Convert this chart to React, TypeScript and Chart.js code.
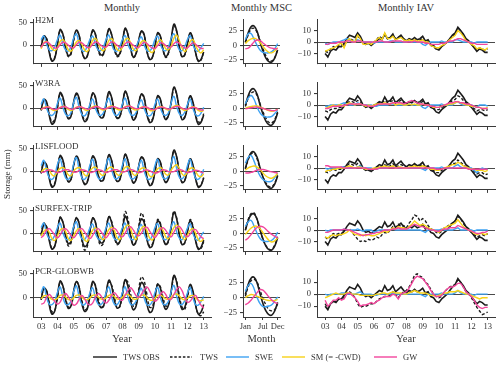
import React, { useEffect, useRef } from 'react';
import { Chart, registerables } from 'chart.js';

Chart.register(...registerables);

// ------------------------------------------------------------------ data
const START_YEAR = 2003;
const STEP_MONTHS = 2; // one value every two months, Jan 2003 .. Jan 2013
const YEAR_TICKS = [2003, 2004, 2005, 2006, 2007, 2008, 2009, 2010, 2011, 2012, 2013];
const MONTHS = [1, 2, 3, 4, 5, 6, 7, 8, 9, 10, 11, 12];
const MONTH_TICKS = [1, 7, 12];
const MONTH_TICK_LABELS = ['Jan', 'Jul', 'Dec'];
const MODELS = ['H2M', 'W3RA', 'LISFLOOD', 'SURFEX-TRIP', 'PCR-GLOBWB'];
const SERIES = ['TWS OBS', 'TWS', 'SWE', 'SM (= -CWD)', 'GW'];
const MON_Y_TICKS = [0, 50];
const MSC_Y_TICKS = [-25, 0, 25];
const IAV_Y_TICKS = [-10, 0, 10];

// observations (same in every row)
const OBS_MON = [
  -5, 19, 14, -16, -35, -29,
  1, 34, 25, -4, -23, -18,
  13, 33, 22, -12, -29, -25,
  4, 33, 25, -8, -21, -19,
  9, 36, 24, -6, -22, -19,
  6, 37, 24, -6, -26, -19,
  10, 31, 24, -12, -31, -28,
  -2, 27, 20, -10, -25, -16,
  13, 46, 32, -3, -25, -21,
  3, 27, 14, -16, -35, -31,
  -15];
const OBS_MSC = [5, 22, 32, 33, 24, 6, -10, -22, -28, -29, -22, -8];
const OBS_IAV = [
  -10, -13, -8, -6, -7, -4,
  -4, -1, 3, 6, 5, 4,
  8, 5, 0, -2, -1, -3,
  -1, 1, 3, 2, 7, 3,
  4, 7, 2, 4, 6, 3,
  1, 3, 2, 4, 2, 3,
  5, 1, 2, -2, -3, -6,
  -7, -4, -2, 0, 3, 6,
  8, 13, 10, 7, 3, 1,
  -2, -5, -8, -6, -7, -9,
  -9];

// ---- H2M
const H2M_MON_TWS = [
  -3, 20, 15, -14, -33, -27,
  0, 32, 24, -5, -25, -20,
  10, 30, 22, -10, -28, -24,
  3, 30, 24, -8, -24, -20,
  7, 33, 23, -7, -25, -21,
  5, 35, 24, -6, -27, -20,
  8, 30, 22, -11, -30, -27,
  -3, 25, 19, -11, -27, -18,
  10, 43, 30, -4, -26, -22,
  2, 25, 13, -15, -34, -33,
  -14];
const H2M_MON_SWE = [
  12, 20, 2, -10, -12, -4,
  12, 22, 3, -10, -13, -4,
  15, 25, 4, -11, -13, -3,
  12, 20, 2, -10, -12, -4,
  13, 22, 3, -11, -13, -3,
  12, 21, 2, -10, -12, -4,
  10, 18, 1, -11, -13, -5,
  12, 20, 2, -10, -12, -4,
  15, 25, 5, -10, -12, -3,
  12, 21, 2, -11, -13, -5,
  4];
const H2M_MON_SM = [
  -8, 5, 8, 2, -8, -12,
  -6, 8, 12, 4, -10, -13,
  -5, 7, 10, 2, -10, -14,
  -5, 10, 15, 6, -8, -12,
  -4, 10, 14, 5, -9, -12,
  -4, 11, 15, 6, -8, -12,
  -3, 7, 10, 2, -12, -16,
  -8, 6, 12, 4, -8, -10,
  -2, 15, 22, 10, -6, -14,
  -6, 8, 12, 0, -12, -17,
  -10];
const H2M_MON_GW = [
  -5, 4, 7, 4, -2, -6,
  -6, 1, 6, 5, 0, -5,
  -6, 1, 6, 5, 0, -5,
  -5, 2, 7, 5, 0, -4,
  -4, 2, 7, 5, 0, -4,
  -4, 3, 7, 5, 0, -4,
  -5, 1, 6, 4, -2, -6,
  -7, -1, 5, 4, -1, -5,
  -4, 3, 7, 4, -2, -6,
  -6, 0, 5, 2, -3, -7,
  -7];
const H2M_MSC_TWS = [5, 18, 28, 29, 22, 8, -6, -18, -26, -27, -21, -7];
const H2M_MSC_SWE = [10, 20, 20, 10, 0, -8, -12, -13, -13, -11, -6, 3];
const H2M_MSC_SM = [3, 8, 11, 12, 10, 5, -2, -8, -12, -13, -10, -4];
const H2M_MSC_GW = [-6, -5, 0, 6, 9, 8, 4, 0, -3, -5, -6, -6];
const H2M_IAV_TWS = [
  -8, -9, -6, -4, -5, -3,
  -2, -4, 1, 3, 2, 1,
  5, 3, -1, -2, -1, -2,
  0, 2, 5, 3, 6, 3,
  4, 6, 3, 4, 5, 2,
  1, 2, 2, 3, 1, 2,
  3, 0, 1, -3, -4, -6,
  -6, -4, -2, 0, 3, 5,
  7, 12, 10, 6, 2, 0,
  -2, -4, -7, -5, -6, -7,
  -6];
const H2M_IAV_SWE = [
  -1, -2, -1, 0, 0, 0,
  1, 2, 3, 2, 0, 0,
  2, 1, 0, 0, 0, 0,
  -1, 0, 0, 0, 0, 0,
  1, 1, 0, 0, 0, 0,
  0, 1, 0, 0, 0, 0,
  -2, -3, -1, 0, 0, 0,
  0, 1, 0, 0, 0, 0,
  2, 2, 1, 0, 0, 0,
  0, -1, 0, 0, 0, 0,
  0];
const H2M_IAV_SM = [
  -8, -7, -6, -5, -4, -2,
  -1, -5, 1, 3, 1, 0,
  6, 3, -2, -2, -1, -2,
  0, 2, 4, 2, 8, 3,
  3, 5, 2, 3, 4, 2,
  1, 2, 1, 2, 1, 1,
  2, 0, 0, -3, -4, -5,
  -5, -3, -2, 0, 2, 4,
  6, 10, 8, 5, 1, 0,
  -2, -3, -6, -5, -6, -7,
  -5];
const H2M_IAV_GW = [
  -2, -2, -1, -1, -1, 0,
  0, 0, 1, 1, 0, 0,
  1, 1, 0, 0, 0, 0,
  0, 0, 1, 1, 0, 0,
  0, 1, 1, 1, 1, 0,
  0, 0, 0, 1, 0, 0,
  0, -1, -1, -2, -2, -2,
  -2, -1, -1, 0, 1, 1,
  2, 3, 3, 2, 1, 0,
  -1, -1, -2, -2, -2, -2,
  -2];

// ---- W3RA
const W3RA_MON_TWS = [
  -4, 18, 12, -12, -30, -25,
  0, 31, 22, -4, -22, -18,
  10, 30, 20, -9, -25, -22,
  2, 31, 23, -7, -20, -18,
  7, 33, 22, -6, -21, -19,
  5, 36, 23, -5, -23, -18,
  8, 30, 21, -10, -27, -25,
  -3, 26, 18, -9, -23, -16,
  11, 44, 30, -2, -22, -19,
  2, 26, 12, -14, -30, -29,
  -12];
const W3RA_MON_SWE = [
  8, 20, 0, -13, -16, -10,
  10, 22, 2, -13, -17, -10,
  12, 24, 3, -13, -17, -9,
  8, 20, 1, -13, -16, -10,
  10, 22, 2, -13, -16, -9,
  9, 22, 2, -13, -16, -10,
  8, 18, 0, -14, -17, -11,
  8, 20, 1, -13, -16, -10,
  12, 26, 4, -12, -16, -9,
  8, 20, 0, -14, -17, -11,
  2];
const W3RA_MON_SM = [
  -3, 1, 3, 2, -3, -5,
  -3, 2, 4, 3, -3, -5,
  -2, 2, 4, 2, -3, -5,
  -2, 3, 5, 3, -2, -4,
  -2, 3, 5, 3, -2, -4,
  -2, 3, 5, 4, -2, -4,
  -2, 2, 3, 1, -4, -6,
  -3, 2, 4, 2, -2, -4,
  -1, 4, 6, 4, -2, -5,
  -3, 1, 3, 1, -5, -7,
  -5];
const W3RA_MON_GW = [
  -2, 0, 2, 2, -1, -3,
  -2, 1, 3, 3, 0, -2,
  -2, 1, 3, 2, 0, -2,
  -2, 1, 3, 3, 0, -2,
  -1, 1, 3, 3, 1, -1,
  -1, 2, 4, 4, 1, -1,
  -1, 1, 3, 2, -1, -3,
  -3, 0, 2, 2, 0, -2,
  -1, 2, 4, 3, 0, -2,
  -2, 0, 2, 1, -2, -4,
  -4];
const W3RA_MSC_TWS = [3, 17, 26, 28, 22, 8, -6, -17, -24, -25, -19, -6];
const W3RA_MSC_SWE = [8, 18, 22, 15, 2, -8, -13, -15, -15, -14, -9, -3];
const W3RA_MSC_SM = [0, 2, 3, 4, 4, 2, 0, -2, -4, -5, -4, -2];
const W3RA_MSC_GW = [-1, 0, 1, 2, 2, 1, 0, -2, -3, -4, -4, -2];
const W3RA_IAV_TWS = [
  -5, -6, -4, -3, -3, -2,
  -2, 0, 2, 3, 3, 2,
  4, 3, 0, -1, -1, -2,
  0, 1, 2, 2, 4, 2,
  3, 4, 2, 3, 4, 2,
  1, 3, 3, 4, 2, 2,
  3, 1, 1, -2, -3, -4,
  -4, -2, -1, 0, 2, 4,
  5, 8, 7, 4, 2, 0,
  -2, -3, -5, -4, -4, -5,
  -4];
const W3RA_IAV_SWE = [
  -1, -1, 0, 0, 0, 0,
  1, 2, 1, 0, 0, 0,
  2, 1, 0, 0, 0, 0,
  -1, -1, 0, 0, 0, 0,
  1, 1, 0, 0, 0, 0,
  0, 1, 0, 0, 0, 0,
  -2, -3, -1, 0, 0, 0,
  0, 1, 0, 0, 0, 0,
  2, 3, 1, 0, 0, 0,
  0, -1, -2, 0, 0, 0,
  -1];
const W3RA_IAV_SM = [
  -3, -2, -1, 0, -1, 0,
  0, -1, 1, 2, 1, 0,
  1, 1, 0, -1, 0, -1,
  0, 1, 1, 1, 2, 1,
  1, 2, 0, 1, 1, 0,
  0, 1, 0, 1, 0, 0,
  1, 0, 0, -1, -2, -2,
  -2, -1, 0, 0, 1, 1,
  2, 3, 2, 1, 0, 0,
  -1, -1, -2, -2, -3, -3,
  -2];
const W3RA_IAV_GW = [
  -3, -3, -2, -1, -1, -1,
  -1, 0, 0, 1, 1, 1,
  1, 1, 0, 0, -1, -1,
  -1, 0, 1, 1, 1, 1,
  1, 2, 2, 2, 2, 1,
  2, 3, 4, 3, 2, 1,
  1, 0, 0, -1, -1, -2,
  -2, -1, 0, 1, 2, 2,
  3, 3, 2, 2, 1, 1,
  0, -1, -2, -2, -3, -3,
  -3];

// ---- LISFLOOD
const LIS_MON_TWS = [
  -4, 20, 13, -14, -32, -27,
  1, 33, 23, -5, -23, -19,
  11, 31, 21, -11, -27, -23,
  3, 31, 24, -8, -22, -19,
  8, 34, 23, -6, -22, -19,
  6, 36, 24, -6, -25, -19,
  9, 31, 23, -11, -29, -26,
  -2, 26, 19, -10, -24, -16,
  12, 44, 31, -3, -24, -20,
  3, 26, 13, -15, -33, -30,
  -14];
const LIS_MON_SWE = [
  12, 24, 2, -14, -18, -10,
  14, 27, 4, -14, -18, -10,
  16, 30, 5, -14, -18, -9,
  13, 26, 3, -14, -17, -10,
  14, 28, 4, -14, -17, -9,
  13, 27, 3, -14, -17, -10,
  11, 24, 1, -15, -18, -11,
  12, 26, 2, -14, -17, -10,
  16, 32, 6, -13, -17, -9,
  12, 26, 2, -15, -18, -11,
  4];
const LIS_MON_SM = [
  -2, 4, 6, 2, -8, -10,
  -1, 6, 8, 3, -8, -10,
  0, 6, 8, 2, -8, -10,
  0, 7, 9, 3, -7, -9,
  0, 7, 9, 3, -7, -9,
  0, 8, 10, 4, -7, -9,
  0, 6, 7, 1, -10, -12,
  -3, 5, 8, 3, -7, -8,
  2, 10, 14, 6, -6, -10,
  -2, 6, 7, 0, -10, -12,
  -6];
const LIS_MON_GW = [
  -3, -2, 1, 3, 2, -1,
  -3, -2, 1, 3, 3, 0,
  -2, -2, 1, 3, 2, -1,
  -3, -2, 0, 3, 2, -1,
  -3, -1, 1, 3, 3, 0,
  -2, -1, 2, 4, 2, -1,
  -3, -2, 1, 3, 1, -2,
  -4, -3, 0, 3, 2, -1,
  -2, -1, 2, 4, 2, -1,
  -3, -2, 0, 2, 1, -2,
  -4];
const LIS_MSC_TWS = [4, 20, 30, 31, 21, 4, -10, -20, -26, -27, -20, -7];
const LIS_MSC_SWE = [14, 24, 27, 17, 3, -8, -14, -17, -18, -17, -11, -3];
const LIS_MSC_SM = [2, 6, 8, 9, 7, 3, -3, -8, -11, -12, -9, -4];
const LIS_MSC_GW = [-3, -3, -2, 0, 2, 3, 3, 2, 0, -1, -2, -3];
const LIS_IAV_TWS = [
  -3, -4, -2, -1, -2, -1,
  -1, 1, 2, 4, 3, 2,
  4, 2, 0, -2, -2, -3,
  -1, 0, 2, 1, 3, 1,
  2, 4, 1, 2, 3, 2,
  1, 2, 2, 3, 2, 2,
  3, 1, 1, -1, -2, -4,
  -4, -2, -1, 0, 2, 4,
  4, 7, 5, 3, 1, 0,
  -1, -3, -5, -4, -4, -6,
  -5];
const LIS_IAV_SWE = [
  0, -1, 0, 0, 0, 0,
  1, 1, 0, 0, 0, 0,
  1, 2, 0, 0, 0, 0,
  -1, -1, 0, 0, 0, 0,
  1, 1, 0, 0, 0, 0,
  0, 0, 0, 0, 0, 0,
  -1, -2, 0, 0, 0, 0,
  0, 1, 0, 0, 0, 0,
  2, 3, 1, 0, 0, 0,
  0, -2, -4, -1, 0, -1,
  -1];
const LIS_IAV_SM = [
  -3, -2, -2, -1, -1, 0,
  0, 0, 1, 2, 1, 0,
  1, 1, 0, -1, -1, -1,
  0, 0, 1, 1, 2, 1,
  1, 2, 0, 1, 1, 0,
  0, 1, 1, 2, 1, 1,
  2, 1, 0, -1, -1, -2,
  -2, -1, 0, 1, 2, 3,
  3, 5, 4, 2, 1, 0,
  -1, -1, -2, -2, -2, -3,
  -2];
const LIS_IAV_GW = [
  2, 2, 1, 1, 1, 1,
  1, 0, 0, 0, 0, 0,
  0, 0, 0, 0, -1, -1,
  -1, -1, 0, 0, 0, 0,
  0, 0, 0, 0, 0, 0,
  0, 0, 0, 0, 0, 0,
  0, 0, 0, 0, 0, -1,
  -1, -1, 0, 0, 0, 0,
  0, 0, 0, 0, 0, -1,
  -1, -1, -1, -1, -1, -1,
  -1];

// ---- SURFEX-TRIP
const SFX_MON_TWS = [
  -2, 22, 14, -14, -33, -28,
  2, 35, 24, -6, -28, -22,
  10, 34, 22, -14, -37, -30,
  2, 33, 24, -10, -27, -22,
  8, 36, 26, -6, -25, -20,
  10, 47, 32, -2, -25, -20,
  14, 44, 30, -8, -28, -25,
  0, 30, 22, -8, -25, -18,
  14, 48, 34, -2, -25, -22,
  5, 30, 16, -14, -33, -34,
  -18];
const SFX_MON_SWE = [
  12, 22, 0, -12, -14, -5,
  12, 22, 1, -12, -14, -5,
  14, 25, 2, -12, -14, -4,
  11, 20, 0, -12, -14, -5,
  12, 22, 1, -12, -14, -4,
  12, 22, 1, -12, -14, -5,
  10, 19, 0, -13, -15, -6,
  12, 21, 1, -12, -14, -5,
  14, 25, 3, -11, -14, -4,
  11, 21, 0, -13, -15, -6,
  3];
const SFX_MON_SM = [
  -6, 4, 8, 2, -12, -16,
  -6, 6, 10, 4, -12, -16,
  -6, 5, 10, 2, -14, -18,
  -6, 6, 12, 4, -10, -14,
  -4, 8, 13, 6, -10, -14,
  -2, 12, 18, 10, -8, -14,
  -1, 10, 15, 6, -10, -15,
  -5, 6, 12, 6, -8, -12,
  -1, 12, 18, 10, -8, -14,
  -4, 6, 10, 0, -14, -18,
  -12];
const SFX_MON_GW = [
  -10, -4, 6, 10, 4, -4,
  -10, -4, 6, 10, 4, -5,
  -10, -3, 7, 10, 3, -6,
  -12, -5, 5, 10, 4, -4,
  -10, -2, 8, 11, 5, -4,
  -8, 0, 10, 14, 7, -2,
  -6, 0, 10, 13, 5, -4,
  -10, -2, 8, 12, 6, -3,
  -8, 2, 12, 15, 7, -3,
  -8, -2, 6, 8, 0, -8,
  -12];
const SFX_MSC_TWS = [6, 24, 34, 35, 24, 6, -10, -21, -27, -28, -20, -6];
const SFX_MSC_SWE = [12, 20, 22, 12, 0, -9, -13, -14, -14, -12, -7, 2];
const SFX_MSC_SM = [-2, 4, 9, 12, 12, 8, 1, -6, -12, -15, -13, -8];
const SFX_MSC_GW = [-12, -8, -2, 5, 10, 12, 11, 7, 2, -2, -5, -8];
const SFX_IAV_TWS = [
  -6, -8, -5, -3, -4, -3,
  -3, -1, 0, 1, -2, -5,
  -8, -10, -9, -10, -8, -9,
  -8, -6, -7, -4, -2, -3,
  0, 3, 2, 5, 3, 4,
  2, 6, 9, 13, 12, 8,
  10, 8, 4, 1, 0, -2,
  -3, -1, 2, 3, 5, 6,
  8, 12, 10, 6, 2, 0,
  -2, -4, -6, -5, -4, -5,
  -3];
const SFX_IAV_SWE = [
  0, -1, 0, 0, 0, 0,
  0, 1, 0, 0, 0, 0,
  1, 0, -1, 0, 0, 0,
  -2, -1, 0, 0, 0, 0,
  0, 1, 0, 0, 0, 0,
  0, 0, 0, 0, 0, 0,
  -1, -2, 0, 0, 0, 0,
  0, 1, 0, 0, 0, 0,
  1, 2, 0, 0, 0, 0,
  0, -1, 0, 0, 0, 0,
  0];
const SFX_IAV_SM = [
  -6, -7, -5, -4, -5, -4,
  -4, -3, -2, 0, -2, -4,
  -4, -5, -4, -5, -4, -5,
  -5, -4, -3, -2, -1, -2,
  0, 2, 1, 3, 2, 2,
  1, 3, 5, 8, 6, 4,
  5, 4, 2, 1, 0, -1,
  -2, 0, 2, 3, 4, 5,
  6, 9, 6, 3, 1, 0,
  -1, -3, -4, -3, -3, -4,
  -3];
const SFX_IAV_GW = [
  -2, -2, -1, 0, 0, 0,
  0, 1, 0, 0, -1, -2,
  -3, -4, -5, -4, -4, -3,
  -3, -2, -2, -1, 0, 0,
  0, 1, 1, 2, 1, 1,
  1, 2, 4, 5, 4, 3,
  3, 2, 1, 0, 0, -1,
  -1, 0, 1, 1, 2, 2,
  2, 4, 3, 2, 1, 0,
  -1, -2, -3, -3, -2, -2,
  -1];

// ---- PCR-GLOBWB
const PCR_MON_TWS = [
  -5, 18, 14, -10, -30, -28,
  -2, 32, 24, 0, -20, -20,
  8, 33, 22, -5, -25, -23,
  0, 30, 26, 0, -18, -18,
  6, 32, 26, 2, -20, -20,
  8, 36, 32, 8, -18, -15,
  16, 43, 35, 8, -20, -20,
  4, 28, 22, 0, -18, -15,
  10, 44, 34, 4, -20, -25,
  -2, 24, 12, -15, -35, -38,
  -30];
const PCR_MON_SWE = [
  10, 22, 0, -14, -15, -8,
  10, 22, 1, -14, -15, -8,
  12, 24, 2, -14, -15, -7,
  9, 20, 0, -14, -15, -8,
  10, 22, 1, -14, -15, -7,
  10, 22, 1, -14, -15, -8,
  8, 19, -1, -15, -16, -9,
  10, 21, 0, -14, -15, -8,
  12, 25, 3, -13, -15, -7,
  9, 21, 0, -15, -16, -9,
  2];
const PCR_MON_SM = [
  -3, 3, 4, 0, -4, -5,
  -2, 4, 5, 1, -4, -5,
  -1, 4, 5, 1, -4, -5,
  -1, 4, 5, 1, -3, -4,
  -1, 4, 6, 2, -3, -4,
  0, 5, 6, 2, -3, -4,
  0, 4, 5, 0, -5, -6,
  -2, 4, 5, 1, -3, -4,
  0, 6, 7, 3, -3, -5,
  -2, 3, 4, -1, -6, -7,
  -5];
const PCR_MON_GW = [
  -14, -12, 0, 6, 0, -8,
  -14, -10, 2, 8, 2, -8,
  -16, -14, -4, 4, -2, -12,
  -16, -12, 0, 8, 4, -6,
  -12, -6, 4, 10, 4, -4,
  -6, 4, 14, 20, 14, 4,
  0, 6, 16, 22, 14, 2,
  -8, -4, 6, 12, 6, -4,
  -4, 6, 16, 22, 14, 0,
  -10, -8, 0, 4, -6, -16,
  -22];
const PCR_MSC_TWS = [2, 18, 28, 30, 25, 12, -2, -12, -20, -22, -20, -10];
const PCR_MSC_SWE = [10, 20, 23, 14, 0, -10, -15, -15, -14, -12, -6, 1];
const PCR_MSC_SM = [0, 3, 5, 4, 2, 0, -2, -4, -5, -5, -5, -3];
const PCR_MSC_GW = [-12, -9, -4, 2, 8, 13, 12, 7, 1, -4, -8, -10];
const PCR_IAV_TWS = [
  -8, -12, -8, -6, -6, -4,
  -4, -3, 1, 2, 0, -3,
  -8, -11, -10, -10, -9, -8,
  -8, -6, -4, -3, -2, -2,
  -1, 2, 0, -3, 0, 2,
  3, 6, 10, 16, 17, 15,
  14, 10, 8, 4, 0, -2,
  -3, -2, 2, 4, 6, 7,
  8, 12, 10, 6, 2, 0,
  -3, -7, -11, -14, -17, -16,
  -15];
const PCR_IAV_SWE = [
  0, -1, 0, 0, 0, 0,
  1, 1, 0, 0, 0, 0,
  1, 2, 0, 0, 0, 0,
  -1, -1, 0, 0, 0, 0,
  0, 1, 0, 0, 0, 0,
  0, 0, 0, 0, 0, 0,
  -1, -2, 0, 0, 0, 0,
  0, 1, 0, 0, 0, 0,
  1, 3, 1, 0, 0, 0,
  0, -1, 0, 0, 0, 0,
  0];
const PCR_IAV_SM = [
  -3, -2, -1, 0, 1, 0,
  0, 0, 1, 1, 0, 0,
  0, -1, -1, -1, -1, -1,
  -1, 0, 0, 1, 1, 0,
  1, 2, 1, 1, 1, 0,
  0, 1, 2, 3, 2, 1,
  1, 1, 0, -1, -1, -2,
  -1, 0, 1, 1, 2, 2,
  2, 3, 2, 1, 0, 0,
  -1, -2, -3, -4, -3, -3,
  -3];
const PCR_IAV_GW = [
  -5, -10, -8, -5, -5, -3,
  -5, -4, 0, 1, -1, -3,
  -6, -10, -9, -9, -8, -7,
  -8, -6, -5, -3, -2, -2,
  -2, 0, -1, -4, 0, 1,
  2, 5, 9, 13, 15, 14,
  13, 10, 7, 3, 0, -2,
  -2, -1, 2, 4, 6, 6,
  7, 9, 9, 6, 2, 0,
  -2, -5, -9, -11, -12, -11,
  -11];

// tables built from the arrays above
const ROW_MON = [
  [H2M_MON_TWS, H2M_MON_SWE, H2M_MON_SM, H2M_MON_GW],
  [W3RA_MON_TWS, W3RA_MON_SWE, W3RA_MON_SM, W3RA_MON_GW],
  [LIS_MON_TWS, LIS_MON_SWE, LIS_MON_SM, LIS_MON_GW],
  [SFX_MON_TWS, SFX_MON_SWE, SFX_MON_SM, SFX_MON_GW],
  [PCR_MON_TWS, PCR_MON_SWE, PCR_MON_SM, PCR_MON_GW],
];
const ROW_MSC = [
  [H2M_MSC_TWS, H2M_MSC_SWE, H2M_MSC_SM, H2M_MSC_GW],
  [W3RA_MSC_TWS, W3RA_MSC_SWE, W3RA_MSC_SM, W3RA_MSC_GW],
  [LIS_MSC_TWS, LIS_MSC_SWE, LIS_MSC_SM, LIS_MSC_GW],
  [SFX_MSC_TWS, SFX_MSC_SWE, SFX_MSC_SM, SFX_MSC_GW],
  [PCR_MSC_TWS, PCR_MSC_SWE, PCR_MSC_SM, PCR_MSC_GW],
];
const ROW_IAV = [
  [H2M_IAV_TWS, H2M_IAV_SWE, H2M_IAV_SM, H2M_IAV_GW],
  [W3RA_IAV_TWS, W3RA_IAV_SWE, W3RA_IAV_SM, W3RA_IAV_GW],
  [LIS_IAV_TWS, LIS_IAV_SWE, LIS_IAV_SM, LIS_IAV_GW],
  [SFX_IAV_TWS, SFX_IAV_SWE, SFX_IAV_SM, SFX_IAV_GW],
  [PCR_IAV_TWS, PCR_IAV_SWE, PCR_IAV_SM, PCR_IAV_GW],
];

// ------------------------------------------------------------------ styles / layout
const FONT = "'Liberation Serif', 'Times New Roman', serif";
const INK = '#333333';
const AXIS = '#3a3a3a';
const STYLES = [
  { color: '#1c1c1c', dash: [] as number[], width: 1.6, order: 5 },
  { color: '#1c1c1c', dash: [3, 2], width: 1.4, order: 4 },
  { color: '#3ea2f2', dash: [] as number[], width: 1.4, order: 3 },
  { color: '#f7d217', dash: [] as number[], width: 1.4, order: 2 },
  { color: '#f2459c', dash: [] as number[], width: 1.4, order: 1 },
];

const ROW_TOP0 = 15;
const ROW_STEP = 62.8;
const PLOT_H = 51;
const YW = 28;
const PR = 10;
const PT = 4;

type Kind = 'mon' | 'msc' | 'iav';
const COLS: Record<Kind, { left: number; width: number; x: [number, number]; y: [number, number] }> = {
  mon: { left: 33, width: 178, x: [2002.5, 2013.45], y: [-41, 57] },
  msc: { left: 243, width: 37, x: [0.2, 12.8], y: [-32, 45] },
  iav: { left: 317, width: 178, x: [2002.5, 2013.45], y: [-19, 20] },
};

function geom(kind: Kind, row: number) {
  const c = COLS[kind];
  const last = row === MODELS.length - 1;
  const plotTop = Math.round(ROW_TOP0 + ROW_STEP * row);
  const xh = last ? 17 : 6;
  return {
    left: c.left - YW,
    top: plotTop - PT,
    width: YW + c.width + PR,
    height: PT + PLOT_H + xh,
    xh,
    plotTop,
  };
}

const minus = (v: number) => (v < 0 ? '\u2212' + Math.abs(v) : String(v));

function buildConfig(kind: Kind, row: number) {
  const last = row === MODELS.length - 1;
  const g = geom(kind, row);
  const c = COLS[kind];
  const series =
    kind === 'mon' ? [OBS_MON, ...ROW_MON[row]] : kind === 'msc' ? [OBS_MSC, ...ROW_MSC[row]] : [OBS_IAV, ...ROW_IAV[row]];
  const xs = kind === 'msc' ? MONTHS : series[0].map((_, i) => START_YEAR + (i * STEP_MONTHS) / 12);
  const datasets = series.map((vals, k) => ({
    label: SERIES[k],
    data: vals.map((v, i) => ({ x: xs[i], y: v })),
    borderColor: STYLES[k].color,
    borderWidth: STYLES[k].width,
    borderDash: STYLES[k].dash,
    pointRadius: 0,
    fill: false,
    tension: kind === 'iav' ? 0 : 0.4,
    order: STYLES[k].order,
  }));
  const yTicks = kind === 'mon' ? MON_Y_TICKS : kind === 'msc' ? MSC_Y_TICKS : IAV_Y_TICKS;
  const xTicks = kind === 'msc' ? MONTH_TICKS : YEAR_TICKS;
  const tickFont = { family: FONT, size: 8.5 };
  return {
    type: 'line' as const,
    data: { datasets },
    options: {
      animation: false as const,
      responsive: false,
      devicePixelRatio: 1,
      events: [] as any[],
      layout: { padding: { left: 0, right: PR, top: PT, bottom: 0 } },
      plugins: { legend: { display: false }, tooltip: { enabled: false }, title: { display: false } },
      scales: {
        x: {
          type: 'linear' as const,
          min: c.x[0],
          max: c.x[1],
          afterBuildTicks: (s: any) => {
            s.ticks = xTicks.map((v) => ({ value: v }));
          },
          afterFit: (s: any) => {
            s.height = g.xh;
          },
          ticks: {
            autoSkip: false,
            maxRotation: 0,
            minRotation: 0,
            padding: 2,
            color: INK,
            font: tickFont,
            callback: (v: any) => {
              if (!last) return '';
              if (kind === 'msc') return MONTH_TICK_LABELS[MONTH_TICKS.indexOf(v)] ?? '';
              return String(v).slice(2);
            },
          },
          grid: { drawOnChartArea: false, drawTicks: true, tickLength: 3, tickColor: AXIS, tickWidth: 1 },
          border: { display: true, color: AXIS, width: 1 },
        },
        y: {
          type: 'linear' as const,
          min: c.y[0],
          max: c.y[1],
          afterBuildTicks: (s: any) => {
            s.ticks = yTicks.map((v) => ({ value: v }));
          },
          afterFit: (s: any) => {
            s.width = YW;
          },
          ticks: { padding: 3, color: INK, font: tickFont, callback: (v: any) => minus(v) },
          grid: {
            drawOnChartArea: true,
            drawTicks: true,
            tickLength: 3,
            tickColor: AXIS,
            lineWidth: 1.1,
            color: (ctx: any) => (ctx.tick && ctx.tick.value === 0 ? '#4a4a4a' : 'rgba(0,0,0,0)'),
          },
          border: { display: true, color: AXIS, width: 1 },
        },
      },
    },
  };
}

function Panel({ kind, row }: { kind: Kind; row: number }) {
  const ref = useRef<HTMLCanvasElement | null>(null);
  const g = geom(kind, row);
  useEffect(() => {
    if (!ref.current) return;
    const chart = new Chart(ref.current, buildConfig(kind, row) as any);
    return () => chart.destroy();
  }, [kind, row]);
  return (
    <canvas
      ref={ref}
      width={g.width}
      height={g.height}
      style={{ position: 'absolute', left: g.left, top: g.top, width: g.width, height: g.height }}
    />
  );
}

function Label({ x, y, size, children, anchor = 'center', rotate = 0 }: any) {
  const tx = anchor === 'center' ? '-50%' : '0';
  return (
    <div
      style={{
        position: 'absolute',
        left: x,
        top: y,
        transform: `translate(${tx}, -50%)${rotate ? ` rotate(${rotate}deg)` : ''}`,
        transformOrigin: anchor === 'center' ? 'center' : 'left center',
        fontFamily: FONT,
        fontSize: size,
        color: INK,
        whiteSpace: 'nowrap',
        lineHeight: 1,
      }}
    >
      {children}
    </div>
  );
}

const LEGEND_POS = [
  { x1: 93, x2: 117, tx: 123 },
  { x1: 170, x2: 192, tx: 200 },
  { x1: 226, x2: 249, tx: 255 },
  { x1: 282, x2: 305, tx: 311 },
  { x1: 374, x2: 397, tx: 403 },
];

export default function App() {
  const kinds: Kind[] = ['mon', 'msc', 'iav'];
  const legendY = 357;
  return (
    <div
      style={{
        position: 'fixed',
        left: 0,
        top: 0,
        width: 500,
        height: 366,
        overflow: 'hidden',
        background: '#ffffff',
      }}
    >
      <Label x={122} y={8} size={10.5}>Monthly</Label>
      <Label x={261.5} y={8} size={10.5}>Monthly MSC</Label>
      <Label x={406} y={8} size={10.5}>Monthly IAV</Label>
      {MODELS.map((m, r) =>
        kinds.map((k) => <Panel key={m + k} kind={k} row={r} />)
      )}
      {MODELS.map((m, r) => (
        <Label key={'lab' + m} x={35} y={Math.round(ROW_TOP0 + ROW_STEP * r) + 5} size={9} anchor="left">
          {m}
        </Label>
      ))}
      <Label x={7} y={174} size={9} rotate={-90}>Storage (mm)</Label>
      <Label x={122} y={339} size={10.5}>Year</Label>
      <Label x={261.5} y={339} size={10.5}>Month</Label>
      <Label x={406} y={339} size={10.5}>Year</Label>
      <svg width={500} height={366} style={{ position: 'absolute', left: 0, top: 0, pointerEvents: 'none' }}>
        {LEGEND_POS.map((p, k) => (
          <line
            key={k}
            x1={p.x1}
            x2={p.x2}
            y1={legendY}
            y2={legendY}
            stroke={STYLES[k].color}
            strokeWidth={1.4}
            strokeDasharray={STYLES[k].dash.length ? '2.5,1.8' : undefined}
          />
        ))}
      </svg>
      {LEGEND_POS.map((p, k) => (
        <Label key={'lg' + k} x={p.tx} y={legendY} size={8.5} anchor="left">
          {SERIES[k]}
        </Label>
      ))}
    </div>
  );
}
